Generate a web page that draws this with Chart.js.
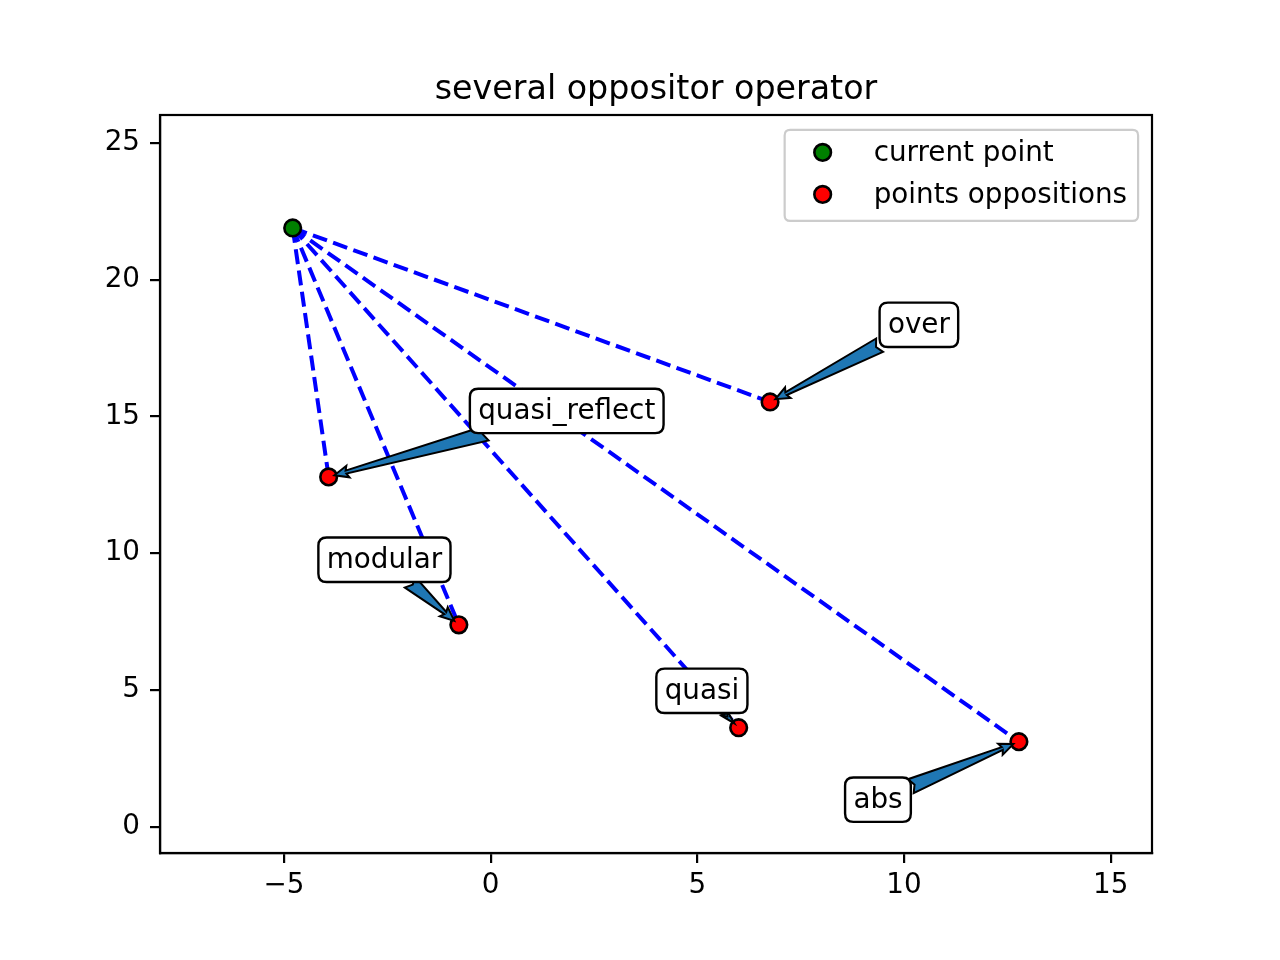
<!DOCTYPE html>
<html>
<head>
<meta charset="utf-8">
<script src="https://cdn.jsdelivr.net/npm/chart.js@4.4.1/dist/chart.umd.min.js"></script>
<style>
  html, body { margin: 0; padding: 0; background: #fff; }
  #wrap { width: 1280px; height: 960px; }
</style>
</head>
<body>
<div id="wrap"><canvas id="chart" width="1280" height="960"></canvas></div>
<script>
// data
const titleText = 'several oppositor operator';
const currentX = [-4.79];
const currentY = [21.89];
const oppNames = ['over', 'quasi_reflect', 'modular', 'quasi', 'abs'];
const oppX = [6.76, -3.92, -0.77, 6.00, 12.78];
const oppY = [15.53, 12.79, 7.38, 3.62, 3.11];
// centre of each label box, in data units
const labelX = [10.36, 1.84, -2.57, 5.11, 9.37];
const labelY = [18.35, 15.20, 9.76, 4.97, 0.99];
const xTicks = [-5, 0, 5, 10, 15];
const yTicks = [0, 5, 10, 15, 20, 25];
const xRange = [-8, 16];
const yRange = [-0.96, 26.02];
const legendNames = ['current point', 'points oppositions'];

const FONT = 'DejaVu Sans';
const FS = 27.8;

// dashed lines from the current point to every opposition
const lineSets = oppX.map((x, i) => ({
    type: 'line',
    data: [{ x: currentX[0], y: currentY[0] }, { x: x, y: oppY[i] }],
    borderColor: '#0000ff',
    borderWidth: 4,
    borderDash: [15, 6.5],
    pointRadius: 0,
    fill: false,
    order: 2
}));

const pointSets = [
    {
        label: legendNames[0],
        data: currentX.map((x, i) => ({ x: x, y: currentY[i] })),
        backgroundColor: '#008000',
        borderColor: '#000',
        borderWidth: 2.6,
        pointRadius: 8.3,
        order: 0
    },
    {
        label: legendNames[1],
        data: oppX.map((x, i) => ({ x: x, y: oppY[i] })),
        backgroundColor: '#ff0000',
        borderColor: '#000',
        borderWidth: 2.6,
        pointRadius: 8.3,
        order: 0
    }
];

function roundRect(ctx, x, y, w, h, r) {
    ctx.beginPath();
    ctx.moveTo(x + r, y);
    ctx.lineTo(x + w - r, y);
    ctx.quadraticCurveTo(x + w, y, x + w, y + r);
    ctx.lineTo(x + w, y + h - r);
    ctx.quadraticCurveTo(x + w, y + h, x + w - r, y + h);
    ctx.lineTo(x + r, y + h);
    ctx.quadraticCurveTo(x, y + h, x, y + h - r);
    ctx.lineTo(x, y + r);
    ctx.quadraticCurveTo(x, y, x + r, y);
    ctx.closePath();
}

function drawArrow(ctx, sx, sy, tx, ty) {
    const dx = tx - sx, dy = ty - sy;
    const L = Math.hypot(dx, dy);
    if (L < 2) return;
    const ux = dx / L, uy = dy / L, nx = -uy, ny = ux;
    const k = Math.min(1, L / 40);
    const hl = Math.min(12, L * 0.8), hw = 6 * Math.max(k, 0.6), tw = 7.5 * k, neck = 1.5;
    const bx = tx - ux * hl, by = ty - uy * hl;
    ctx.beginPath();
    ctx.moveTo(sx + nx * tw, sy + ny * tw);
    ctx.lineTo(bx + nx * neck, by + ny * neck);
    ctx.lineTo(bx + nx * hw - ux * 2, by + ny * hw - uy * 2);
    ctx.lineTo(tx, ty);
    ctx.lineTo(bx - nx * hw - ux * 2, by - ny * hw - uy * 2);
    ctx.lineTo(bx - nx * neck, by - ny * neck);
    ctx.lineTo(sx - nx * tw, sy - ny * tw);
    ctx.lineTo(sx + ux * 4 * k, sy + uy * 4 * k);
    ctx.closePath();
    ctx.fillStyle = '#1f77b4';
    ctx.fill();
    ctx.lineWidth = 2;
    ctx.strokeStyle = '#000';
    ctx.lineJoin = 'miter';
    ctx.stroke();
}

const extras = {
    id: 'extras',
    afterDatasetsDraw(chart) {
        const ctx = chart.ctx;
        const xs = chart.scales.x, ys = chart.scales.y;
        ctx.save();
        ctx.font = FS + 'px "' + FONT + '"';
        const pad = 8.3;
        oppNames.forEach((name, i) => {
            const cx = xs.getPixelForValue(labelX[i]);
            const cy = ys.getPixelForValue(labelY[i]);
            const px = xs.getPixelForValue(oppX[i]);
            const py = ys.getPixelForValue(oppY[i]);
            const w = ctx.measureText(name).width + 2 * pad;
            const h = FS + 2 * pad;
            // arrow from box edge to the point
            const dx = px - cx, dy = py - cy;
            const t = Math.min((w / 2) / Math.abs(dx), (h / 2) / Math.abs(dy));
            const sx = cx + dx * t, sy = cy + dy * t;
            const L = Math.hypot(dx, dy);
            const tx = px - dx / L * 6, ty = py - dy / L * 6;
            drawArrow(ctx, sx, sy, tx, ty);
            // label box
            roundRect(ctx, cx - w / 2, cy - h / 2, w, h, pad);
            ctx.fillStyle = '#fff';
            ctx.fill();
            ctx.lineWidth = 2.4;
            ctx.strokeStyle = '#000';
            ctx.stroke();
            ctx.fillStyle = '#000';
            ctx.textAlign = 'center';
            ctx.textBaseline = 'middle';
            ctx.fillText(name, cx, cy + 1);
        });
        ctx.restore();
    },
    afterDraw(chart) {
        const ctx = chart.ctx;
        const ca = chart.chartArea;
        ctx.save();
        // frame
        ctx.lineWidth = 2.2;
        ctx.strokeStyle = '#000';
        ctx.strokeRect(ca.left, ca.top, ca.right - ca.left, ca.bottom - ca.top);
        // title
        ctx.fillStyle = '#000';
        ctx.font = '33.3px "' + FONT + '"';
        ctx.textAlign = 'center';
        ctx.textBaseline = 'middle';
        ctx.fillText(titleText, (ca.left + ca.right) / 2, ca.top - 25);
        // legend
        ctx.font = FS + 'px "' + FONT + '"';
        const tw = Math.max(...legendNames.map(n => ctx.measureText(n).width));
        const lw = 89 + tw + 11, lh = 91;
        const lx = ca.right - 13.9 - lw, ly = ca.top + 14.9;
        roundRect(ctx, lx, ly, lw, lh, 5.5);
        ctx.fillStyle = 'rgba(255,255,255,0.8)';
        ctx.fill();
        ctx.lineWidth = 2.2;
        ctx.strokeStyle = '#cccccc';
        ctx.stroke();
        const colors = ['#008000', '#ff0000'];
        legendNames.forEach((n, i) => {
            const ry = ly + 22.5 + i * 42;
            ctx.beginPath();
            ctx.arc(lx + 38, ry, 8.3, 0, Math.PI * 2);
            ctx.fillStyle = colors[i];
            ctx.fill();
            ctx.lineWidth = 2.6;
            ctx.strokeStyle = '#000';
            ctx.stroke();
            ctx.fillStyle = '#000';
            ctx.textAlign = 'left';
            ctx.textBaseline = 'middle';
            ctx.fillText(n, lx + 89, ry + 1);
        });
        ctx.restore();
    }
};

const tickFont = { family: FONT, size: FS };

new Chart(document.getElementById('chart'), {
    type: 'scatter',
    data: { datasets: lineSets.concat(pointSets) },
    options: {
        responsive: false,
        devicePixelRatio: 1,
        animation: false,
        layout: { padding: { left: 0, right: 128, top: 115, bottom: 0 } },
        plugins: {
            legend: { display: false },
            title: { display: false },
            tooltip: { enabled: false }
        },
        scales: {
            x: {
                type: 'linear',
                min: xRange[0],
                max: xRange[1],
                afterBuildTicks: s => { s.ticks = xTicks.map(v => ({ value: v })); },
                afterFit: s => { s.height = 107; },
                grid: { drawOnChartArea: false, drawTicks: true, tickLength: 10, color: '#000', lineWidth: 2.2 },
                border: { display: true, color: '#000', width: 2.2 },
                ticks: {
                    color: '#000',
                    font: tickFont,
                    padding: 6,
                    maxRotation: 0,
                    autoSkip: false,
                    callback: v => String(v).replace('-', '\u2212')
                }
            },
            y: {
                type: 'linear',
                min: yRange[0],
                max: yRange[1],
                afterBuildTicks: s => { s.ticks = yTicks.map(v => ({ value: v })); },
                afterFit: s => { s.width = 160; },
                grid: { drawOnChartArea: false, drawTicks: true, tickLength: 10, color: '#000', lineWidth: 2.2 },
                border: { display: true, color: '#000', width: 2.2 },
                ticks: {
                    color: '#000',
                    font: tickFont,
                    padding: 10,
                    autoSkip: false,
                    callback: v => String(v)
                }
            }
        }
    },
    plugins: [extras]
});
</script>
</body>
</html>
